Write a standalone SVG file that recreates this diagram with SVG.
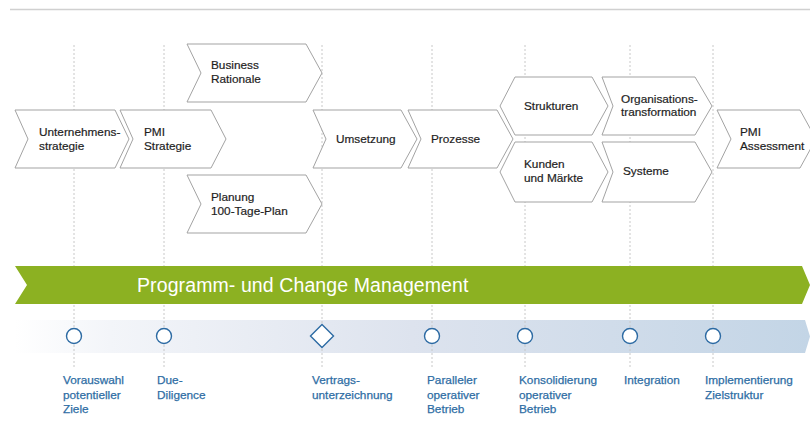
<svg xmlns="http://www.w3.org/2000/svg" width="810" height="439" viewBox="0 0 810 439">
<defs>
<linearGradient id="band" x1="15" y1="0" x2="810" y2="0" gradientUnits="userSpaceOnUse">
<stop offset="0" stop-color="#ffffff"/>
<stop offset="0.12" stop-color="#f3f5f9"/>
<stop offset="0.5" stop-color="#dde3ee"/>
<stop offset="1" stop-color="#c3d5e6"/>
</linearGradient>
</defs>
<style>
.shape{fill:#ffffff;stroke:#a3a3a3;stroke-width:1}
.t{font-family:"Liberation Sans",Arial,sans-serif;font-size:11.8px;fill:#1e1e1e;stroke:#1e1e1e;stroke-width:0.2}
.guide{stroke:#c8c8c8;stroke-width:1;stroke-dasharray:2 2;fill:none}
.ms{fill:#ffffff;stroke:#2c6aa3;stroke-width:1.4}
.lb{font-family:"Liberation Sans",Arial,sans-serif;font-size:11.8px;fill:#2e6da4;stroke:#2e6da4;stroke-width:0.25}
.pm{font-family:"Liberation Sans",Arial,sans-serif;font-size:19.5px;letter-spacing:0.1px;fill:#ffffff}
</style>
<rect width="810" height="439" fill="#ffffff"/>
<line x1="10" y1="9.5" x2="810" y2="9.5" stroke="#d0d0d0" stroke-width="1.6"/>
<polygon id="timeline-band" points="15,320 805,320 810,336.5 805,353 15,353" fill="url(#band)"/>
<g id="connectors">
<line class="guide" x1="74" y1="45" x2="74" y2="367"/>
<line class="guide" x1="164" y1="45" x2="164" y2="367"/>
<line class="guide" x1="322" y1="45" x2="322" y2="367"/>
<line class="guide" x1="432" y1="45" x2="432" y2="367"/>
<line class="guide" x1="525" y1="45" x2="525" y2="367"/>
<line class="guide" x1="630" y1="45" x2="630" y2="367"/>
<line class="guide" x1="713" y1="45" x2="713" y2="367"/>
</g>
<g id="n-unternehmensstrategie">
<polygon class="shape" points="15,110 115,110 129,139 115,168 15,168 28,139"/>
<text class="t" x="39"><tspan x="39" y="136">Unternehmens-</tspan><tspan x="39" y="150">strategie</tspan></text>
</g>
<g id="n-pmi-strategie">
<polygon class="shape" points="120,110 211,110 226,139 211,168 120,168 133,139"/>
<text class="t"><tspan x="144" y="136">PMI</tspan><tspan x="144" y="150">Strategie</tspan></text>
</g>
<g id="n-business-rationale">
<polygon class="shape" points="187,44 306,44 322,73 306,102 187,102 201,73"/>
<text class="t"><tspan x="211" y="69">Business</tspan><tspan x="211" y="83">Rationale</tspan></text>
</g>
<g id="n-planung">
<polygon class="shape" points="187,175 306,175 322,204 306,233 187,233 201,204"/>
<text class="t"><tspan x="211" y="201">Planung</tspan><tspan x="211" y="215">100-Tage-Plan</tspan></text>
</g>
<g id="n-umsetzung">
<polygon class="shape" points="313,110 401,110 417,139 401,168 313,168 326,139"/>
<text class="t" x="336" y="143">Umsetzung</text>
</g>
<g id="n-prozesse">
<polygon class="shape" points="408,110 497,110 513,139 497,168 408,168 421,139"/>
<text class="t" x="431" y="143">Prozesse</text>
</g>
<g id="n-strukturen">
<polygon class="shape" points="500,106 515,77 592,77 608,106 592,135 515,135"/>
<text class="t" x="524" y="110">Strukturen</text>
</g>
<g id="n-kunden">
<polygon class="shape" points="500,172 515,142 592,142 608,172 592,202 515,202"/>
<text class="t"><tspan x="524" y="168">Kunden</tspan><tspan x="524" y="182">und Märkte</tspan></text>
</g>
<g id="n-organisationstransformation">
<polygon class="shape" points="602,77 695,77 712,106 695,135 602,135 613,106"/>
<text class="t"><tspan x="621" y="103">Organisations-</tspan><tspan x="621" y="116">transformation</tspan></text>
</g>
<g id="n-systeme">
<polygon class="shape" points="602,142 695,142 712,172 695,202 602,202 613,172"/>
<text class="t" x="623" y="175">Systeme</text>
</g>
<g id="n-pmi-assessment">
<polygon class="shape" points="717,110 800,110 816,139 800,168 717,168 731,139"/>
<text class="t"><tspan x="740" y="136">PMI</tspan><tspan x="740" y="150">Assessment</tspan></text>
</g>
<g id="n-programm-change">
<polygon points="15,266 802,266 810,285 802,304 15,304 27,285" fill="#8cb122"/>
<text class="pm" x="137" y="292">Programm- und Change Management</text>
</g>
<g id="m-vorauswahl">
<circle class="ms" cx="74" cy="336" r="7.5"/>
<text class="lb"><tspan x="63" y="384">Vorauswahl</tspan><tspan x="63" y="398.5">potentieller</tspan><tspan x="63" y="413">Ziele</tspan></text>
</g>
<g id="m-due-diligence">
<circle class="ms" cx="164" cy="336" r="7.5"/>
<text class="lb"><tspan x="157" y="384">Due-</tspan><tspan x="157" y="398.5">Diligence</tspan></text>
</g>
<g id="m-vertrag">
<polygon class="ms" points="322,324.5 333.5,336 322,347.5 310.5,336"/>
<text class="lb"><tspan x="312" y="384">Vertrags-</tspan><tspan x="312" y="398.5">unterzeichnung</tspan></text>
</g>
<g id="m-paralleler">
<circle class="ms" cx="432" cy="336" r="7.5"/>
<text class="lb"><tspan x="427" y="384">Paralleler</tspan><tspan x="427" y="398.5">operativer</tspan><tspan x="427" y="413">Betrieb</tspan></text>
</g>
<g id="m-konsolidierung">
<circle class="ms" cx="525" cy="336" r="7.5"/>
<text class="lb"><tspan x="519" y="384">Konsolidierung</tspan><tspan x="519" y="398.5">operativer</tspan><tspan x="519" y="413">Betrieb</tspan></text>
</g>
<g id="m-integration">
<circle class="ms" cx="630" cy="336" r="7.5"/>
<text class="lb" x="624" y="384">Integration</text>
</g>
<g id="m-implementierung">
<circle class="ms" cx="713" cy="336" r="7.5"/>
<text class="lb"><tspan x="705" y="384">Implementierung</tspan><tspan x="705" y="398.5">Zielstruktur</tspan></text>
</g>
</svg>
